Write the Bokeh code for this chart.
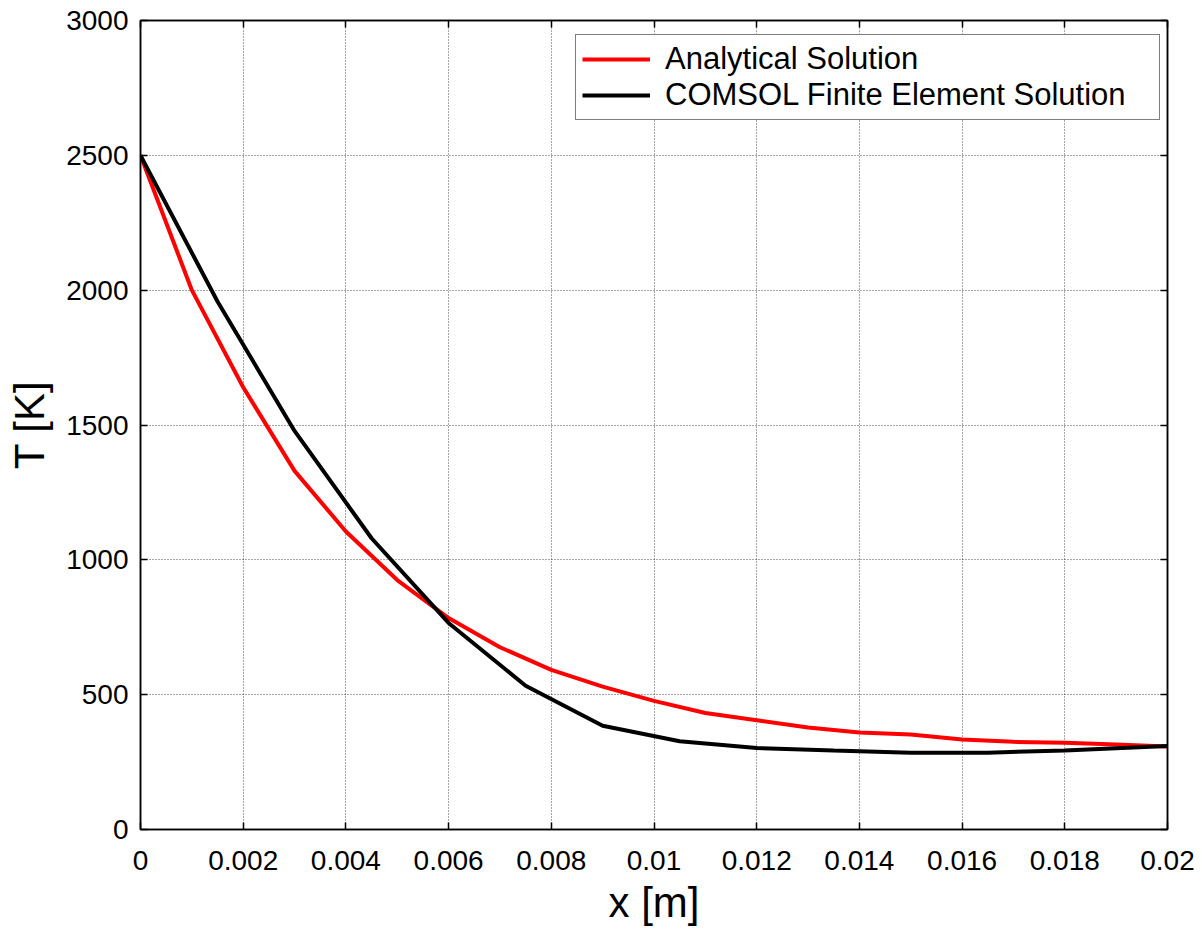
from bokeh.plotting import figure
from bokeh.models import (Range1d, FixedTicker, LinearAxis, Legend, LegendItem,
                          CustomJSTickFormatter)
from bokeh.embed import file_html
from bokeh.resources import INLINE

# ---- data ----
x_analytical = [0.0, 0.001, 0.002, 0.003, 0.004, 0.005, 0.006, 0.007, 0.008, 0.009,
                0.010, 0.011, 0.012, 0.013, 0.014, 0.015, 0.016, 0.017, 0.018, 0.019, 0.020]
T_analytical = [2500, 2000, 1640, 1330, 1105, 925, 784, 676, 592, 530,
                477, 432, 405, 378, 360, 352, 334, 325, 322, 315, 308]

x_comsol = [0.0, 0.0015, 0.003, 0.0045, 0.006, 0.0075, 0.009, 0.0105, 0.012,
            0.0135, 0.015, 0.0165, 0.018, 0.020]
T_comsol = [2500, 1958, 1478, 1080, 766, 533, 385, 327, 302,
            293, 285, 285, 293, 310]

x_ticks = [0.0, 0.002, 0.004, 0.006, 0.008, 0.010, 0.012, 0.014, 0.016, 0.018, 0.020]
x_tick_labels = ["0", "0.002", "0.004", "0.006", "0.008", "0.01", "0.012",
                 "0.014", "0.016", "0.018", "0.02"]
y_ticks = [0, 500, 1000, 1500, 2000, 2500, 3000]
y_tick_labels = ["0", "500", "1000", "1500", "2000", "2500", "3000"]

series_names = ["Analytical Solution", "COMSOL Finite Element Solution"]
x_label = "x [m]"
y_label = "T [K]"

FONT = "Liberation Sans"

p = figure(width=1200, height=928, output_backend="svg", toolbar_location=None,
           x_range=Range1d(0, 0.02), y_range=Range1d(0, 3000),
           min_border_left=140, min_border_right=33, min_border_top=20,
           min_border_bottom=99)
p.background_fill_color = "white"
p.border_fill_color = "white"
p.outline_line_color = "black"
p.outline_line_width = 1.5

# grid
for g in (p.xgrid, p.ygrid):
    g.grid_line_color = "#000000"
    g.grid_line_alpha = 0.7
    g.grid_line_dash = "1 2"
    g.grid_line_width = 1
p.xgrid.ticker = FixedTicker(ticks=x_ticks)
p.ygrid.ticker = FixedTicker(ticks=y_ticks)

# main axes
xa = p.xaxis[0]
ya = p.yaxis[0]
xa.ticker = FixedTicker(ticks=x_ticks)
ya.ticker = FixedTicker(ticks=y_ticks)
xa.major_label_overrides = {t: l for t, l in zip(x_ticks, x_tick_labels)}
ya.major_label_overrides = {t: l for t, l in zip(y_ticks, y_tick_labels)}
for ax in (xa, ya):
    ax.axis_line_color = "black"
    ax.axis_line_width = 1.5
    ax.major_tick_in = 7
    ax.major_tick_out = 0
    ax.major_tick_line_width = 1.5
    ax.major_tick_line_color = "black"
    ax.minor_tick_line_color = None
    ax.major_label_text_font = FONT
    ax.major_label_text_font_size = "28px"
    ax.major_label_text_color = "black"
    ax.axis_label_text_font = FONT
    ax.axis_label_text_font_size = "42px"
    ax.axis_label_text_font_style = "normal"
    ax.axis_label_text_color = "black"
xa.axis_label = x_label
ya.axis_label = y_label
xa.major_label_standoff = 21
xa.axis_label_standoff = 6
ya.major_label_standoff = 12
ya.axis_label_standoff = 10

# mirrored axes (box with inward ticks)
blank = CustomJSTickFormatter(code="return ''")
top = LinearAxis(ticker=FixedTicker(ticks=x_ticks), formatter=blank)
right = LinearAxis(ticker=FixedTicker(ticks=y_ticks), formatter=blank)
for ax in (top, right):
    ax.axis_line_color = "black"
    ax.axis_line_width = 1.5
    ax.major_tick_in = 7
    ax.major_tick_out = 0
    ax.major_tick_line_width = 1.5
    ax.minor_tick_line_color = None
    ax.major_label_text_font_size = "0px"
    ax.major_label_standoff = 0
p.add_layout(top, "above")
p.add_layout(right, "right")

# data lines
r1 = p.line(x_analytical, T_analytical, line_color="#ff0000", line_width=4)
r2 = p.line(x_comsol, T_comsol, line_color="#000000", line_width=4)

legend = Legend(items=[LegendItem(label=series_names[0], renderers=[r1]),
                       LegendItem(label=series_names[1], renderers=[r2])],
                location=(435, 709))
legend.margin = 0
legend.padding = 6
legend.spacing = 0
legend.glyph_width = 68
legend.glyph_height = 20
legend.label_standoff = 15
legend.label_width = 488
legend.label_text_font = FONT
legend.label_text_font_size = "31px"
legend.label_text_color = "black"
legend.border_line_color = "black"
legend.border_line_width = 1
legend.background_fill_color = "white"
legend.background_fill_alpha = 1.0
p.add_layout(legend, "center")

open("out.html", "w").write(file_html(p, INLINE))
